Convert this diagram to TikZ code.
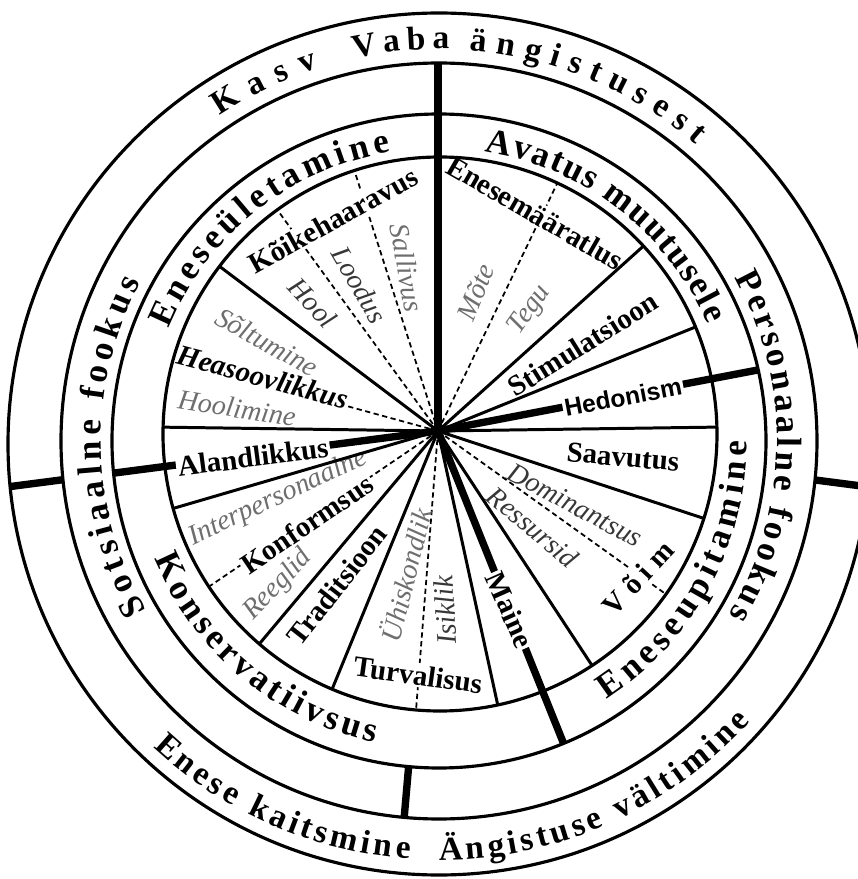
\documentclass[tikz,border=0pt]{standalone}
\usepackage{fontspec}
\setmainfont{Liberation Serif}
\newfontfamily\arialfont{Liberation Sans}
\usepackage{tikz}
\usetikzlibrary{decorations.text,calc}
\usepackage{xcolor}
\definecolor{subgray}{RGB}{110,110,110}
\definecolor{subdark}{RGB}{55,55,55}
\newcommand{\ringfont}{\fontsize{20}{20}\selectfont\bfseries}
\newcommand{\outerfont}{\fontsize{19}{19}\selectfont\bfseries}

\begin{document}
\begin{tikzpicture}[
    x=0.02cm, y=0.02cm,
    circleline/.style={line width=1.8pt},
    spoke/.style={line width=1.7pt},
    divider/.style={line width=4.2pt},
    subline/.style={line width=1pt, dash pattern=on 3pt off 2pt},
    valuebox/.style={font=\fontsize{16.5}{18}\selectfont\bfseries, fill=white, inner sep=1pt},
    subvalue/.style={font=\fontsize{16}{18}\selectfont\itshape, text=subgray, inner sep=1pt},
    subvaluedark/.style={subvalue, text=subdark},
    curvedtext/.style={decorate, decoration={text along path, text align={fit to path}, text={|\ringfont|#1}}},
    outertext/.style={decorate, decoration={text along path, text align={fit to path}, text={|\outerfont|#1}}}
]

\useasboundingbox (-439,-438) rectangle (419,441);
\clip (-439,-438) rectangle (419,441);

\coordinate (C) at (0,0);
\coordinate (C1) at (1,7);
\coordinate (C4) at (0,-3);
\coordinate (O) at (-1,10);

% dashed lines between sub-values
\begin{scope}
  \clip (C1) circle (277);
  \draw[subline] (O) -- ++(126:300);
  \draw[subline] (O) -- ++(107.8:300);
  \draw[subline] (O) -- ++(64.3:300);
  \draw[subline] (O) -- ++(-35.6:300);
  \draw[subline] (O) -- ++(265.5:300);
  \draw[subline] (O) -- ++(214.2:300);
  \draw[subline] (O) -- ++(164.7:300);
\end{scope}

% thick lines cut by labels
\draw[divider] (O) -- ++(10.8:326);
\draw[divider] (O) -- ++(-68.1:337);
\draw[divider] (O) -- ++(187.4:327);

% Eneseületamine values
\node[valuebox, rotate=29] (koikehaaravus) at (-106,221) {Kõikehaaravus};
\node[subvaluedark, rotate=-47] (hool) at (-126,138) {Hool};
\node[subvaluedark, rotate=-60] (loodus) at (-79,156) {Loodus};
\node[subvalue, rotate=-80] (sallivus) at (-32,173) {Sallivus};
\node[subvalue, rotate=-29] (soltumine) at (-172,99) {Sõltumine};
\node[valuebox, font=\fontsize{16.5}{18}\selectfont\bfseries\itshape, rotate=-15] (heasoovlikkus) at (-176,64) {Heasoovlikkus};
\node[subvalue, rotate=-9] (hoolimine) at (-202,33) {Hoolimine};

% Konservatiivsus values
\node[valuebox, rotate=7.5] (alandlikkus) at (-186,-16) {Alandlikkus};
\node[subvalue, rotate=25] (interpersonaalne) at (-161,-57) {Interpersonaalne};
\node[valuebox, rotate=34] (konformsus) at (-132,-83) {Konformsus};
\node[subvalue, rotate=46] (reeglid) at (-161,-144) {Reeglid};
\node[valuebox, rotate=52] (traditsioon) at (-102,-144) {Traditsioon};
\node[subvalue, rotate=76] (uhiskondlik) at (-34,-134) {Ühiskondlik};
\node[subvaluedark, rotate=94] (isiklik) at (6,-169) {Isiklik};
\node[valuebox, rotate=-8] (turvalisus) at (-21,-234) {Turvalisus};

% Eneseupitamine values
\node[valuebox, rotate=-66] (maine) at (71,-169) {Maine};
\node[valuebox, rotate=47] (voim) at (199,-137) {V\hspace{4pt}õ\hspace{4pt}i\hspace{4pt}m};
\node[subvaluedark, rotate=-40] (ressursid) at (94,-86) {Ressursid};
\node[subvaluedark, rotate=-28] (dominantsus) at (136,-64) {Dominantsus};
\node[valuebox, rotate=-5] (saavutus) at (184,-16) {Saavutus};
\node[valuebox, font=\arialfont\fontsize{14}{16}\selectfont\bfseries, rotate=10.8] (hedonism) at (184,44) {Hedonism};

% Avatus muutusele values
\node[valuebox, rotate=32] (stimulatsioon) at (144,97) {Stimulatsioon};
\node[valuebox, rotate=-30] (enesemaaratlus) at (96,228) {Enesemääratlus};
\node[subvalue, rotate=68] (mote) at (37,149) {Mõte};
\node[subvalue, rotate=55] (tegu) at (91,131) {Tegu};

% solid spokes
\begin{scope}
  \clip (C1) circle (277);
  \draw[spoke] (O) -- ++(42:300);
  \draw[spoke] (O) -- ++(22:300);
  \draw[spoke] (O) -- ++(0.8:300);
  \draw[spoke] (O) -- ++(-18.2:300);
  \draw[spoke] (O) -- ++(-56.7:300);
  \draw[spoke] (O) -- ++(-77.7:300);
  \draw[spoke] (O) -- ++(247.7:300);
  \draw[spoke] (O) -- ++(230:300);
  \draw[spoke] (O) -- ++(196.3:300);
  \draw[spoke] (O) -- ++(179.2:300);
  \draw[spoke] (O) -- ++(143:300);
\end{scope}

% ring dividers
\draw[divider] (O) -- ++(90:368);
\draw[divider] (O) ++(187.4:378) -- ++(187.4:54);
\draw[divider] (O) ++(-7.4:380) -- ++(-7.4:54);
\draw[divider] (O) ++(265:337) -- ++(265:51);

% circles
\draw[circleline] (C1) circle (277);
\draw[circleline] (C) circle (327);
\draw[circleline] (C) circle (378);
\draw[circleline] (C4) circle (431);

% higher order values
\path[curvedtext=Eneseületamine] (157.5:293) arc[start angle=157.5, end angle=99.5, radius=293];
\path[curvedtext={Avatus muutusele}] (81:293) arc[start angle=81, end angle=23.5, radius=293];
\path[curvedtext=Eneseupitamine] (-57:308) arc[start angle=-57, end angle=0, radius=308];
\path[curvedtext=Konservatiivsus] (202.5:308) arc[start angle=202.5, end angle=258, radius=308];

% focus ring
\path[curvedtext={Sotsiaalne fookus}] (210:338) arc[start angle=210, end angle=152, radius=338];
\path[curvedtext={Personaalne fookus}] (29:338) arc[start angle=29, end angle=-31, radius=338];

% outer ring
\path[outertext=Kasv] (124:392) arc[start angle=124, end angle=108, radius=392];
\path[outertext=Vaba] (102.5:392) arc[start angle=102.5, end angle=88.5, radius=392];
\path[outertext=ängistusest] (85.5:392) arc[start angle=85.5, end angle=49, radius=392];
\path[outertext={Enese kaitsmine}] (227:419) arc[start angle=227, end angle=266, radius=419];
\path[outertext={Ängistuse vältimine}] (270:419) arc[start angle=270, end angle=318, radius=419];

\end{tikzpicture}
\end{document}
